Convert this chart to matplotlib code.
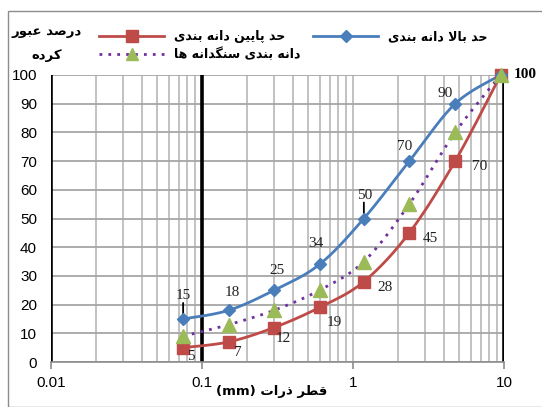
import matplotlib
matplotlib.use("Agg")
import matplotlib.pyplot as plt
import numpy as np
from matplotlib.lines import Line2D
from matplotlib.patches import Rectangle

# ---------------- data ----------------
sieve_mm = [0.075, 0.15, 0.3, 0.6, 1.18, 2.36, 4.75, 9.5]
upper = [15, 18, 25, 34, 50, 70, 90, 100]
lower = [5, 7, 12, 19, 28, 45, 70, 100]
blend = [9, 13, 18, 25, 35, 55, 80, 100]
x_ticks = [0.01, 0.1, 1, 10]
x_tick_labels = ["0.01", "0.1", "1", "10"]
y_ticks = list(range(0, 101, 10))

# labels offsets (pixels) for data labels
upper_off = [(0, 23), (4, 18), (3, 20), (-4, 21), (1, 23), (-5, 15), (-10, 10), None]
lower_off = [(8, -9), (9, -11), (9, -11), (15, -15), (21, -6), (21, -6), (24, -5), None]

# ------------- minimal Persian shaping -------------
FORMS = {
    'ا': ('\uFE8D', '\uFE8E', None, None),
    'ب': ('\uFE8F', '\uFE90', '\uFE91', '\uFE92'),
    'پ': ('\uFB56', '\uFB57', '\uFB58', '\uFB59'),
    'ت': ('\uFE95', '\uFE96', '\uFE97', '\uFE98'),
    'ح': ('\uFEA1', '\uFEA2', '\uFEA3', '\uFEA4'),
    'د': ('\uFEA9', '\uFEAA', None, None),
    'ذ': ('\uFEAB', '\uFEAC', None, None),
    'ر': ('\uFEAD', '\uFEAE', None, None),
    'س': ('\uFEB1', '\uFEB2', '\uFEB3', '\uFEB4'),
    'ص': ('\uFEB9', '\uFEBA', '\uFEBB', '\uFEBC'),
    'ط': ('\uFEC1', '\uFEC2', '\uFEC3', '\uFEC4'),
    'ع': ('\uFEC9', '\uFECA', '\uFECB', '\uFECC'),
    'ق': ('\uFED5', '\uFED6', '\uFED7', '\uFED8'),
    'ک': ('\uFB8E', '\uFB8F', '\uFB90', '\uFB91'),
    'گ': ('\uFB92', '\uFB93', '\uFB94', '\uFB95'),
    'ل': ('\uFEDD', '\uFEDE', '\uFEDF', '\uFEE0'),
    'م': ('\uFEE1', '\uFEE2', '\uFEE3', '\uFEE4'),
    'ن': ('\uFEE5', '\uFEE6', '\uFEE7', '\uFEE8'),
    'ه': ('\uFEE9', '\uFEEA', '\uFEEB', '\uFEEC'),
    'و': ('\uFEED', '\uFEEE', None, None),
    'ی': ('\uFBFC', '\uFBFD', '\uFBFE', '\uFBFF'),
}


def shape_word(w):
    chars = list(w)
    out = []
    n = len(chars)
    i = 0
    while i < n:
        c = chars[i]
        prev_joins = i > 0 and chars[i - 1] in FORMS and FORMS[chars[i - 1]][2] is not None
        if c == 'ل' and i + 1 < n and chars[i + 1] == 'ا':
            out.append('\uFEFC' if prev_joins else '\uFEFB')
            i += 2
            continue
        if c not in FORMS:
            out.append(c)
            i += 1
            continue
        iso, fin, ini, med = FORMS[c]
        next_exists = i + 1 < n and chars[i + 1] in FORMS
        can_next = ini is not None and next_exists
        if prev_joins and can_next:
            out.append(med)
        elif prev_joins:
            out.append(fin)
        elif can_next:
            out.append(ini)
        else:
            out.append(iso)
        i += 1
    return ''.join(out)


def fa(text):
    words = text.split(' ')
    shaped = []
    for w in words:
        if any(ch in FORMS for ch in w):
            shaped.append(shape_word(w)[::-1])
        else:
            shaped.append(w)
    return ' '.join(shaped[::-1])


# ---------------- figure ----------------
W, H = 542, 407
fig = plt.figure(figsize=(W / 100, H / 100), dpi=100)
fig.patches.append(Rectangle((8 / W, 0), 1, 1 - 11 / H, transform=fig.transFigure,
                             fill=False, edgecolor='#8c8c8c', linewidth=1.0))

ax = fig.add_axes([51 / W, 1 - 362 / H, (504 - 51) / W, (362 - 75) / H])
ax.set_xscale('log')
ax.set_xlim(0.01, 10)
ax.set_ylim(0, 100)

# grid
ax.set_yticks(y_ticks)
ax.set_xticks(x_ticks)
ax.set_xticklabels(x_tick_labels)
ax.xaxis.set_minor_locator(matplotlib.ticker.LogLocator(base=10, subs=np.arange(2, 10)))
ax.xaxis.set_minor_formatter(matplotlib.ticker.NullFormatter())
ax.grid(True, which='major', axis='y', color='#a6a6a6', linewidth=1.3)
ax.grid(True, which='both', axis='x', color='#bdbdbd', linewidth=1.3)
ax.set_axisbelow(True)
for s in ['top', 'right', 'left']:
    ax.spines[s].set_visible(False)
ax.spines['bottom'].set_color('#8c8c8c')
ax.spines['bottom'].set_linewidth(1.2)
ax.tick_params(axis='x', which='major', length=5, color='#8c8c8c', width=1.2, pad=5,
               labelsize=11)
ax.tick_params(axis='x', which='minor', length=0)
ax.tick_params(axis='y', length=0, pad=10, labelsize=11)
for lab in ax.get_xticklabels() + ax.get_yticklabels():
    lab.set_fontfamily('Liberation Sans')

# thick black verticals
for xv in [0.01, 0.1, 10]:
    ax.axvline(xv, color='black', linewidth=2.6, zorder=1.5)


# smooth curve (Excel-like Catmull-Rom in display-like space)
def smooth(xs, ys, n=30):
    u = np.log10(np.array(xs, float)) * 151.0
    v = np.array(ys, float) * 2.87
    P = np.column_stack([u, v])
    P = np.vstack([P[0], P, P[-1]])
    pts = []
    for i in range(1, len(P) - 2):
        p0, p1, p2, p3 = P[i - 1], P[i], P[i + 1], P[i + 2]
        c1 = p1 + (p2 - p0) / 6.0
        c2 = p2 - (p3 - p1) / 6.0
        t = np.linspace(0, 1, n)[:, None]
        b = ((1 - t) ** 3) * p1 + 3 * ((1 - t) ** 2) * t * c1 + 3 * (1 - t) * t ** 2 * c2 + t ** 3 * p2
        pts.append(b if i == 1 else b[1:])
    pts = np.vstack(pts)
    return 10 ** (pts[:, 0] / 151.0), pts[:, 1] / 2.87


blue = '#4a7ebb'
red = '#be4b48'
green = '#9bbb59'
purple = '#7030a0'

sx, sy = smooth(sieve_mm, lower)
ax.plot(sx, sy, color=red, linewidth=2.0, zorder=3, clip_on=False)
ax.plot(sieve_mm, lower, linestyle='none', marker='s', markersize=9, color=red, zorder=4, clip_on=False)

sx, sy = smooth(sieve_mm, upper)
ax.plot(sx, sy, color=blue, linewidth=2.0, zorder=3, clip_on=False)
ax.plot(sieve_mm, upper, linestyle='none', marker='D', markersize=6.5, color=blue, zorder=4, clip_on=False)

sx, sy = smooth(sieve_mm, blend)
ax.plot(sx, sy, color=purple, linewidth=2.0, linestyle=(0, (1, 2.2)), zorder=3, clip_on=False)
ax.plot(sieve_mm, blend, linestyle='none', marker='^', markersize=9.5, color=green, zorder=5, clip_on=False)

# data labels
lab_font = dict(fontfamily='Liberation Serif', fontsize=11, color='#222222', ha='center', va='center')
for xv, yv, off in zip(sieve_mm, upper, upper_off):
    if off is None:
        continue
    ax.annotate(str(yv), (xv, yv), xytext=off, textcoords='offset pixels', **lab_font, zorder=6)
for xv, yv, off in zip(sieve_mm, lower, lower_off):
    if off is None:
        continue
    ax.annotate(str(yv), (xv, yv), xytext=off, textcoords='offset pixels', **lab_font, zorder=6)
ax.annotate(str(upper[-1]), (sieve_mm[-1], upper[-1]), xytext=(25, 0), textcoords='offset pixels',
            fontfamily='Liberation Serif', fontsize=11, fontweight='bold', ha='center', va='center')

# leader lines
for idx in [0, 4]:
    ax.annotate('', (sieve_mm[idx], upper[idx]), xytext=(0, 16), textcoords='offset pixels',
                arrowprops=dict(arrowstyle='-', color='black', lw=1.3, shrinkA=0, shrinkB=4))

# legend
h_red = Line2D([], [], color=red, linewidth=2, marker='s', markersize=8)
h_purple = Line2D([], [], color=purple, linewidth=2, linestyle=(0, (1, 2.2)), marker='^',
                  markersize=8.5, markerfacecolor=green, markeredgecolor=green)
h_blue = Line2D([], [], color=blue, linewidth=2, marker='D', markersize=6)
fig.legend([h_red, h_purple, h_blue],
           [fa('حد پایین دانه بندی'), fa('دانه بندی سنگدانه ها'), fa('حد بالا دانه بندی')],
           ncol=2, loc='upper left', bbox_to_anchor=(88 / W, 1 - 19 / H),
           frameon=False, handlelength=5.2, handletextpad=0.8, columnspacing=1.0,
           labelspacing=0.35, prop=dict(family='DejaVu Sans', size=9, weight='bold'))

# axis titles
fig.text(47 / W, 1 - 31 / H, fa('درصد عبور'), ha='center', va='center',
         fontfamily='DejaVu Sans', fontsize=9.5, fontweight='bold')
fig.text(47 / W, 1 - 55 / H, fa('کرده'), ha='center', va='center',
         fontfamily='DejaVu Sans', fontsize=9.5, fontweight='bold')
fig.text(272 / W, 1 - 391 / H, fa('قطر ذرات (mm)'), ha='center', va='center',
         fontfamily='DejaVu Sans', fontsize=9.5, fontweight='bold')

fig.savefig('out.png', dpi=100)
